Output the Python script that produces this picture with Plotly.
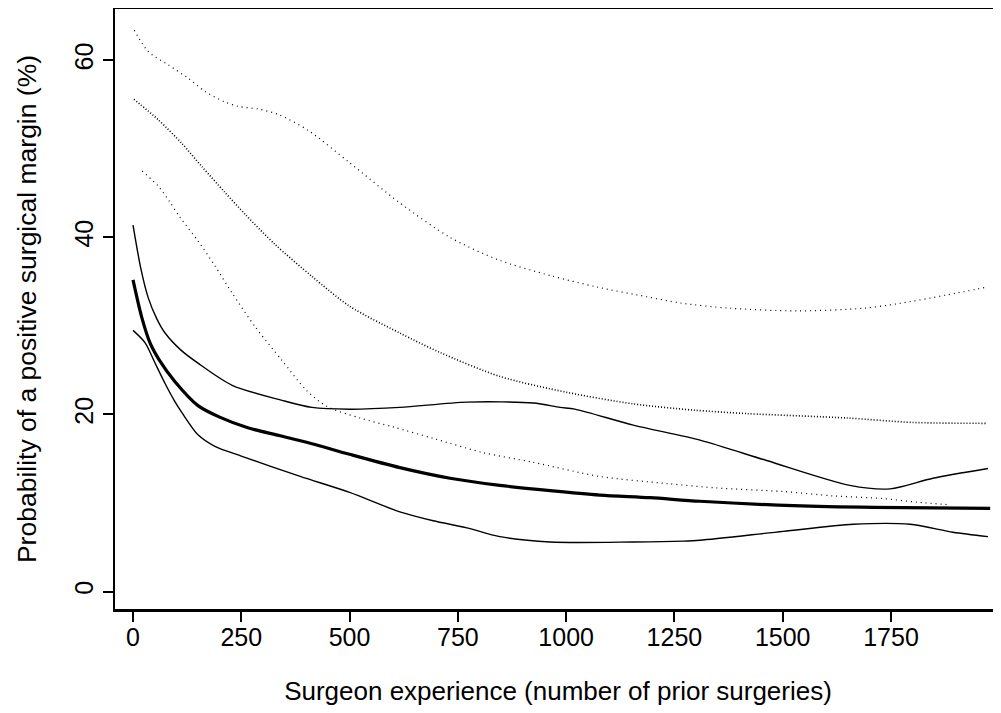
import plotly.graph_objects as go

# Estimate (thick solid)
est_x = [0, 20, 40, 60, 97, 150, 200, 265, 340, 413, 500, 616, 732, 847, 963, 1078, 1194, 1309, 1525, 1710, 1979]
est_y = [35.2, 31.0, 28.0, 26.2, 23.7, 21.0, 19.7, 18.5, 17.6, 16.7, 15.5, 14.0, 12.8, 12.0, 11.4, 10.9, 10.6, 10.2, 9.7, 9.5, 9.4]

# Upper confidence band (thin solid)
up_x = [0, 18, 35, 55, 74, 110, 150, 229, 344, 413, 500, 616, 771, 924, 986, 1020, 1155, 1309, 1463, 1655, 1748, 1847, 1974]
up_y = [41.4, 36.5, 33.2, 30.8, 29.2, 27.3, 25.8, 23.3, 21.6, 20.8, 20.6, 20.8, 21.4, 21.3, 20.8, 20.6, 18.8, 17.1, 14.8, 12.0, 11.6, 12.8, 13.9]

# Lower confidence band (thin solid)
lo_x = [0, 28, 50, 74, 95, 113, 150, 189, 250, 386, 500, 616, 693, 771, 847, 963, 1155, 1270, 1309, 1501, 1663, 1794, 1893, 1974]
lo_y = [29.5, 28.1, 25.9, 23.5, 21.6, 20.2, 17.7, 16.4, 15.3, 13.0, 11.2, 9.0, 8.0, 7.2, 6.2, 5.6, 5.6, 5.7, 5.8, 6.8, 7.6, 7.6, 6.7, 6.2]

# Dotted curves
dtop_x = [3, 35, 81, 127, 166, 212, 243, 289, 335, 404, 501, 616, 732, 847, 963, 1071, 1186, 1263, 1378, 1533, 1686, 1764, 1879, 1972]
dtop_y = [63.4, 61.0, 59.5, 58.0, 56.5, 55.3, 54.8, 54.5, 53.9, 52.1, 48.4, 43.9, 40.0, 37.4, 35.7, 34.4, 33.3, 32.6, 32.0, 31.7, 32.0, 32.5, 33.5, 34.4]

dmid_x = [2, 58, 113, 159, 212, 259, 328, 413, 501, 616, 709, 847, 1002, 1155, 1293, 1418, 1649, 1801, 1972]
dmid_y = [55.6, 53.3, 50.6, 48.0, 45.1, 42.6, 39.2, 35.6, 32.2, 29.2, 27.0, 24.3, 22.5, 21.2, 20.5, 20.1, 19.6, 19.1, 19.0]

dlow_x = [21, 58, 85, 108, 150, 189, 229, 282, 344, 401, 448, 524, 600, 693, 808, 924, 1078, 1233, 1348, 1501, 1617, 1732, 1809, 1886]
dlow_y = [47.5, 45.8, 44.0, 42.3, 39.6, 36.8, 33.7, 29.9, 26.1, 22.7, 20.9, 19.6, 18.6, 17.3, 15.7, 14.6, 13.0, 12.2, 11.7, 11.3, 10.8, 10.5, 10.1, 9.8]

x_ticks = [0, 250, 500, 750, 1000, 1250, 1500, 1750]
y_ticks = [0, 20, 40, 60]

FONT = "Liberation Sans, Arial, sans-serif"

fig = go.Figure()

def add(x, y, width, dash):
    fig.add_trace(go.Scatter(x=x, y=y, mode="lines",
                             line=dict(color="black", width=width, dash=dash, shape="spline", smoothing=0.8),
                             showlegend=False, hoverinfo="skip"))

add(dtop_x, dtop_y, 1.2, "1px,4px")
add(dmid_x, dmid_y, 1.6, "1px,2px")
add(dlow_x, dlow_y, 1.2, "1px,4px")
add(up_x, up_y, 1.4, "solid")
add(lo_x, lo_y, 1.4, "solid")
add(est_x, est_y, 3.2, "solid")

# page body has an 8px margin, so the figure is sized to fit the 1001x713 window
fig.update_layout(
    width=993, height=705,
    margin=dict(l=107, r=0, t=1, b=104),
    paper_bgcolor="white", plot_bgcolor="white",
    font=dict(family=FONT, size=24, color="black"),
    xaxis=dict(
        range=[-41.6, 2004], tickvals=x_ticks, ticktext=[str(v) for v in x_ticks],
        showgrid=False, zeroline=False, automargin=False,
        showline=True, linecolor="black", linewidth=3, mirror=True,
        ticks="outside", ticklen=10, tickwidth=1.5, tickcolor="black",
        tickfont=dict(size=25), ticklabelstandoff=-6,
        title=dict(text="Surgeon experience (number of prior surgeries)", font=dict(size=26), standoff=32),
    ),
    yaxis=dict(
        range=[-1.97, 65.8], tickvals=y_ticks, ticktext=[str(v) for v in y_ticks],
        showgrid=False, zeroline=False, automargin=False,
        showline=True, linecolor="black", linewidth=2,
        ticks="outside", ticklen=10, tickwidth=1.5, tickcolor="black",
        tickangle=-90, tickfont=dict(size=25),
        title=dict(text="Probability of a positive surgical margin (%)", font=dict(size=26.5), standoff=26),
    ),
)

fig.write_html("out.html")
